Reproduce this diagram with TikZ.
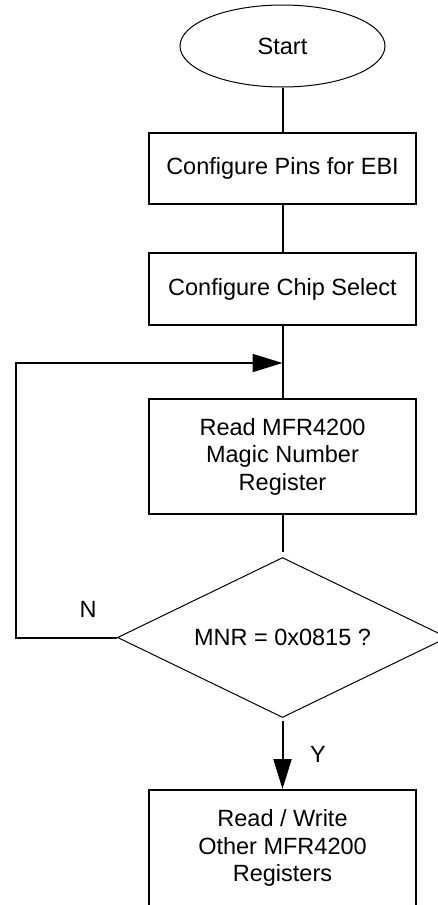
\documentclass[tikz,border=0pt]{standalone}
\usepackage{fontspec}
\setmainfont{Liberation Sans}
\usetikzlibrary{shapes.geometric, arrows.meta}

\tikzset{
  stepbox/.style={draw, line width=1pt, minimum width=133.5pt, minimum height=35.5pt,
    inner sep=0pt, align=center},
  flow/.style={line width=1pt},
  flowarrow/.style={line width=1pt, -{Triangle[length=15pt, width=9pt]}}
}

\begin{document}
\begin{tikzpicture}[x=0.5pt, y=-0.5pt, font=\fontsize{11.75}{13.75}\selectfont]
  \useasboundingbox (0,0) rectangle (438,905);

  \node[draw, ellipse, line width=.5pt, minimum width=102.5pt, minimum height=41pt, inner sep=0pt]
    (start) at (282.5,46) {Start};
  \node[stepbox] (pins) at (282.5,168.5) {Configure Pins for EBI};
  \node[stepbox, minimum height=36pt] (chipsel) at (282.5,289) {Configure Chip Select};
  \node[stepbox, minimum height=57.5pt] (readmnr) at (282.5,456.5)
    {Read MFR4200\\Magic Number\\Register};
  \node[draw, diamond, shape aspect=2.2, line width=.5pt, minimum width=165pt, minimum height=80pt,
    inner sep=0pt] (check) at (282.5,637.5) {MNR = 0x0815 ?};
  \node[stepbox, minimum height=58pt] (rwregs) at (282.5,848)
    {Read / Write\\Other MFR4200\\Registers};

  \coordinate (merge) at (282.5,363);
  \coordinate (back) at (16,363);

  \draw[flow] (start) -- (pins);
  \draw[flow] (pins) -- (chipsel);
  \draw[flow] (chipsel) -- (readmnr);
  \draw[flow, shorten >=2.5pt] (readmnr) -- (check);
  \draw[flowarrow] (check.west) -| (back) -- (merge);
  \draw[flowarrow, shorten <=1.5pt] (check) -- (rwregs);

  \node (nolabel) at (88,609) {N};
  \node (yeslabel) at (318,754) {Y};
\end{tikzpicture}
\end{document}
